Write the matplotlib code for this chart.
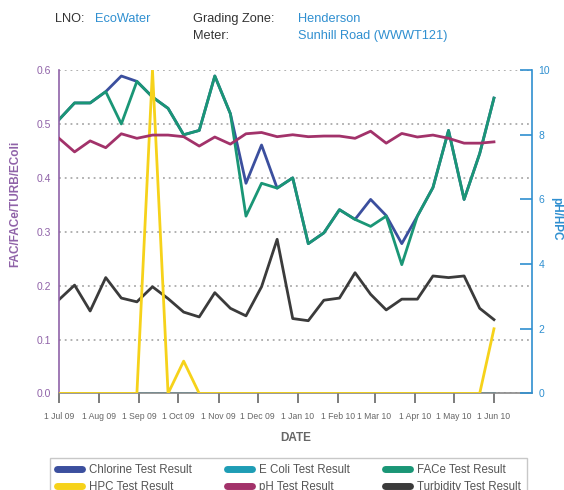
import matplotlib
matplotlib.use('Agg')
import matplotlib.pyplot as plt
import pandas as pd
from matplotlib.lines import Line2D

plt.rcParams['font.family'] = ['Liberation Sans Narrow', 'Liberation Sans', 'DejaVu Sans']

# sample dates (roughly every 12 days)
dates = pd.to_datetime([
    '2009-07-01', '2009-07-13', '2009-07-25', '2009-08-06', '2009-08-18',
    '2009-08-30', '2009-09-11', '2009-09-23', '2009-10-05', '2009-10-17',
    '2009-10-29', '2009-11-10', '2009-11-22', '2009-12-04', '2009-12-16',
    '2009-12-28', '2010-01-09', '2010-01-21', '2010-02-02', '2010-02-14',
    '2010-02-26', '2010-03-10', '2010-03-22', '2010-04-03', '2010-04-15',
    '2010-04-27', '2010-05-09', '2010-05-21', '2010-06-01'])

chlorine = [0.508, 0.539, 0.539, 0.56, 0.589, 0.579, 0.55, 0.529, 0.48, 0.488,
            0.589, 0.519, 0.39, 0.461, 0.381, 0.40, 0.278, 0.298, 0.341, 0.323,
            0.36, 0.33, 0.278, 0.329, 0.382, 0.488, 0.36, 0.445, 0.548]
face = [0.508, 0.539, 0.539, 0.56, 0.50, 0.579, 0.55, 0.529, 0.48, 0.488,
        0.589, 0.519, 0.329, 0.39, 0.381, 0.40, 0.278, 0.298, 0.341, 0.323,
        0.31, 0.329, 0.239, 0.329, 0.382, 0.488, 0.36, 0.445, 0.548]
ecoli = [0.0] * 29
turbidity = [0.174, 0.201, 0.153, 0.215, 0.177, 0.170, 0.198, 0.176, 0.151, 0.142,
             0.187, 0.158, 0.144, 0.198, 0.286, 0.139, 0.135, 0.173, 0.177, 0.224,
             0.184, 0.155, 0.175, 0.175, 0.218, 0.215, 0.218, 0.158, 0.137]
hpc = [0, 0, 0, 0, 0, 0, 10, 0, 1, 0, 0, 0, 0, 0, 0, 0, 0, 0, 0, 0,
       0, 0, 0, 0, 0, 0, 0, 0, 2]
ph = [7.89, 7.47, 7.81, 7.60, 8.03, 7.89, 7.99, 7.99, 7.94, 7.65,
      7.93, 7.71, 8.03, 8.07, 7.94, 8.00, 7.94, 7.96, 7.96, 7.89,
      8.11, 7.74, 8.04, 7.93, 7.99, 7.89, 7.74, 7.74, 7.78]

month_ticks = pd.date_range('2009-07-01', '2010-06-01', freq='MS')
month_labels = ['1 ' + d.strftime('%b %y') for d in month_ticks]

c_chl = '#3b4f9e'
c_eco = '#1e9db5'
c_fac = '#1a9676'
c_hpc = '#f6d21a'
c_ph = '#a2326a'
c_turb = '#3b3b3b'
purple = '#8f62a8'
blue = '#2f8fd0'

fig = plt.figure(figsize=(5.64, 4.90), dpi=100)
ax = fig.add_axes([0.1046, 0.197, 0.838, 0.66])
ax2 = ax.twinx()

lw = 2.0
ax.plot(dates, chlorine, color=c_chl, lw=lw, label='Chlorine Test Result')
ax.plot(dates, ecoli, color=c_eco, lw=lw, label='E Coli Test Result')
ax.plot(dates, face, color=c_fac, lw=lw, label='FACe Test Result')
ax.plot(dates, turbidity, color=c_turb, lw=lw, label='Turbidity Test Result')
ax2.plot(dates, hpc, color=c_hpc, lw=lw, label='HPC Test Result')
ax2.plot(dates, ph, color=c_ph, lw=lw, label='pH Test Result')

ax.set_xlim(pd.Timestamp('2009-07-01'), pd.Timestamp('2010-06-30'))
ax.set_ylim(0, 0.6)
ax2.set_ylim(0, 10)

ax.set_yticks([0, 0.1, 0.2, 0.3, 0.4, 0.5, 0.6])
ax.yaxis.set_major_formatter(plt.FormatStrFormatter('%.1f'))
ax2.set_yticks([0, 2, 4, 6, 8, 10])
ax.set_xticks(month_ticks)
ax.set_xticklabels(month_labels)

ax.grid(axis='y', color='#aaaaaa', linestyle=(0, (1, 2.2)), lw=1.3)
ax.set_axisbelow(True)

for a in (ax, ax2):
    a.spines['top'].set_visible(False)
ax.spines['right'].set_visible(False)
ax2.spines['left'].set_visible(False)
ax2.spines['bottom'].set_visible(False)
ax.spines['left'].set_color(purple)
ax.spines['left'].set_linewidth(1.2)
ax.spines['bottom'].set_color('#888888')
ax.spines['bottom'].set_linewidth(1.2)
ax2.spines['right'].set_color(blue)
ax2.spines['right'].set_linewidth(1.2)

ax.tick_params(axis='y', length=0, labelsize=7.5, labelcolor=purple, pad=6)
ax.tick_params(axis='x', direction='out', length=7, width=1.2, color='#666666',
               labelsize=6.2, labelcolor='#666666', pad=6)
ax2.tick_params(axis='y', direction='in', length=9, width=1.2, color=blue,
                labelsize=7.5, labelcolor=blue, pad=5)

ax.set_xlabel('DATE', fontsize=8.5, fontweight='bold', color='#666666', labelpad=8)
ax.set_ylabel('FAC/FACe/TURB/EColi', fontsize=8.5, fontweight='bold', color=purple)
ax.yaxis.set_label_coords(-0.08, 0.585)
ax2.set_ylabel('pH/HPC', fontsize=8.5, fontweight='bold', color=blue, rotation=-90,
               va='center')
ax2.yaxis.set_label_coords(1.052, 0.54)

# header
hfs = 9.2
fig.text(0.098, 0.962, 'LNO:', fontsize=hfs, color='#333333', va='center')
fig.text(0.168, 0.962, 'EcoWater', fontsize=hfs, color=blue, va='center')
fig.text(0.342, 0.962, 'Grading Zone:', fontsize=hfs, color='#333333', va='center')
fig.text(0.529, 0.962, 'Henderson', fontsize=hfs, color=blue, va='center')
fig.text(0.342, 0.927, 'Meter:', fontsize=hfs, color='#333333', va='center')
fig.text(0.529, 0.927, 'Sunhill Road (WWWT121)', fontsize=hfs, color=blue, va='center')

h = {l.get_label(): l for l in ax.get_lines() + ax2.get_lines()}
order = ['Chlorine Test Result', 'HPC Test Result', 'E Coli Test Result',
         'pH Test Result', 'FACe Test Result', 'Turbidity Test Result']
handles = [Line2D([], [], color=h[k].get_color(), lw=5, solid_capstyle='round') for k in order]
leg = fig.legend(handles, order, ncol=3, loc='upper left',
                 bbox_to_anchor=(0.089, -0.034, 0.846, 0.1), mode='expand',
                 fontsize=8.3, frameon=True, fancybox=False, edgecolor='#bbbbbb',
                 handlelength=2.2, handletextpad=0.6, labelspacing=0.4,
                 borderpad=0.55, columnspacing=1.5, borderaxespad=0)
for t in leg.get_texts():
    t.set_color('#555555')

fig.savefig('out.png', dpi=100)
